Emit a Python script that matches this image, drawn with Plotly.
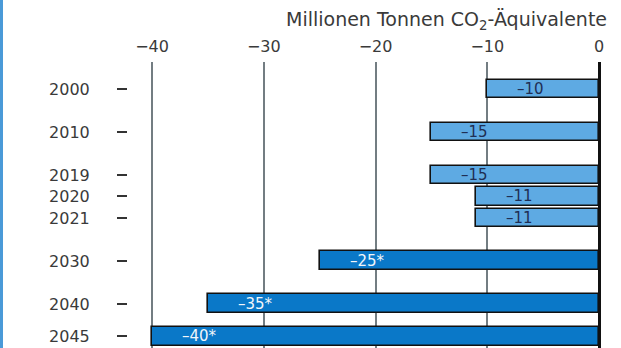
import plotly.graph_objects as go

# ---- data ----
years = ["2000", "2010", "2019", "2020", "2021", "2030", "2040", "2045"]
values = [-10, -15, -15, -11, -11, -25, -35, -40]
is_target = [False, False, False, False, False, True, True, True]
x_ticks = [-40, -30, -20, -10, 0]
axis_title = "Millionen Tonnen CO<sub>2</sub>-Äquivalente"

# ---- layout helpers (row slots on a reversed numeric axis) ----
ROW_SLOTS = [0, 2, 4, 5, 6, 8, 10, 11.5]
W, H = 621, 348
L, R, T, B = 128, 10, 62, 0
FONT = "DejaVu Sans"
LIGHT = "#5eaae3"
DARK = "#0a78c8"

colors = [DARK if t else LIGHT for t in is_target]

fig = go.Figure()
fig.add_trace(go.Bar(
    x=values, y=ROW_SLOTS, orientation="h", width=0.88,
    marker=dict(color=colors, line=dict(color="#111111", width=1.6)),
    hoverinfo="skip", showlegend=False,
))

for v, s, t in zip(values, ROW_SLOTS, is_target):
    txt = "\u2013" + str(abs(v)) + ("*" if t else "")
    fig.add_annotation(
        x=v, y=s, xref="x", yref="y", text=txt, showarrow=False,
        xanchor="left", yanchor="middle", xshift=28,
        font=dict(family=FONT, size=15, color="#f2f6fa" if t else "#1f2f55"),
    )

fig.add_annotation(
    x=1, y=1, xref="paper", yref="paper", text=axis_title, showarrow=False,
    xanchor="right", yanchor="bottom", yshift=27, xshift=-2,
    font=dict(family=FONT, size=19, color="#3a3a3a"),
)

# left blue border
fig.add_shape(type="line", xref="paper", yref="paper", xsizemode="pixel",
              xanchor=0, x0=-L + 1.5, x1=-L + 1.5, y0=-0.1, y1=1.4,
              line=dict(color="#4a9ad8", width=3))

fig.update_layout(
    width=W, height=H,
    margin=dict(l=L, r=R, t=T, b=B, pad=0),
    plot_bgcolor="white", paper_bgcolor="white",
    bargap=0,
    xaxis=dict(
        side="top", range=[-42.15, 1.07], tickvals=x_ticks,
        showgrid=True, gridcolor="#737d82", gridwidth=2,
        zeroline=True, zerolinecolor="#111111", zerolinewidth=2.5,
        showline=False, ticks="",
        tickfont=dict(family=FONT, size=16, color="#3a3a3a"),
        ticklabelstandoff=6,
    ),
    yaxis=dict(
        range=[12.05, -1.256], tickvals=ROW_SLOTS, ticktext=years,
        showgrid=False, zeroline=False, showline=False,
        ticks="outside", ticklen=10, tickwidth=1.8, tickcolor="#333333",
        tickfont=dict(family=FONT, size=16, color="#3a3a3a"),
        ticklabelstandoff=24,
    ),
)

fig.write_html(
    "out.html",
    config={"displayModeBar": False},
    post_script="document.body.style.margin='0';document.body.style.overflow='hidden';",
)
